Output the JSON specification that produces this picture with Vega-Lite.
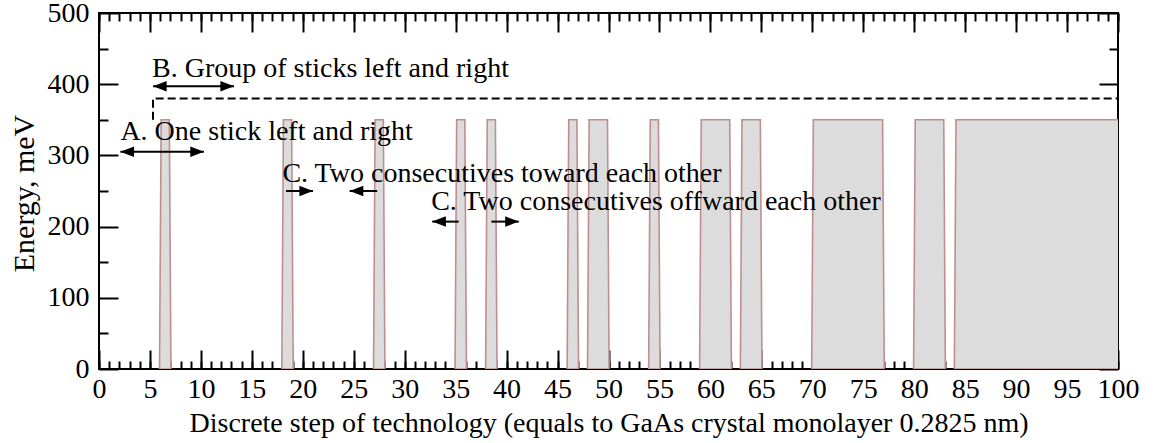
{
  "$schema": "https://vega.github.io/schema/vega-lite/v6.json",
  "width": 1019,
  "height": 356,
  "autosize": "none",
  "padding": {"left": 99, "top": 13, "right": 37, "bottom": 74},
  "background": "white",
  "config": {
    "view": {"stroke": "black", "strokeWidth": 2},
    "axis": {
      "domain": false,
      "grid": false,
      "labelFont": "Liberation Serif",
      "labelFontSize": 28,
      "labelColor": "black",
      "titleFont": "Liberation Serif",
      "titleFontSize": 28,
      "titleFontWeight": "normal",
      "titleColor": "black",
      "tickColor": "black",
      "tickWidth": 2
    }
  },
  "datasets": {
    "sticks": [
      {"stick": "6-7", "x": 5.94, "y": 0}, {"stick": "6-7", "x": 6.1, "y": 350}, {"stick": "6-7", "x": 6.9, "y": 350}, {"stick": "6-7", "x": 7.06, "y": 0},
      {"stick": "18-19", "x": 17.94, "y": 0}, {"stick": "18-19", "x": 18.1, "y": 350}, {"stick": "18-19", "x": 18.9, "y": 350}, {"stick": "18-19", "x": 19.06, "y": 0},
      {"stick": "27-28", "x": 26.94, "y": 0}, {"stick": "27-28", "x": 27.1, "y": 350}, {"stick": "27-28", "x": 27.9, "y": 350}, {"stick": "27-28", "x": 28.06, "y": 0},
      {"stick": "35-36", "x": 34.94, "y": 0}, {"stick": "35-36", "x": 35.1, "y": 350}, {"stick": "35-36", "x": 35.9, "y": 350}, {"stick": "35-36", "x": 36.06, "y": 0},
      {"stick": "38-39", "x": 37.94, "y": 0}, {"stick": "38-39", "x": 38.1, "y": 350}, {"stick": "38-39", "x": 38.9, "y": 350}, {"stick": "38-39", "x": 39.06, "y": 0},
      {"stick": "46-47", "x": 45.94, "y": 0}, {"stick": "46-47", "x": 46.1, "y": 350}, {"stick": "46-47", "x": 46.9, "y": 350}, {"stick": "46-47", "x": 47.06, "y": 0},
      {"stick": "48-50", "x": 47.94, "y": 0}, {"stick": "48-50", "x": 48.1, "y": 350}, {"stick": "48-50", "x": 49.9, "y": 350}, {"stick": "48-50", "x": 50.06, "y": 0},
      {"stick": "54-55", "x": 53.94, "y": 0}, {"stick": "54-55", "x": 54.1, "y": 350}, {"stick": "54-55", "x": 54.9, "y": 350}, {"stick": "54-55", "x": 55.06, "y": 0},
      {"stick": "59-62", "x": 58.94, "y": 0}, {"stick": "59-62", "x": 59.1, "y": 350}, {"stick": "59-62", "x": 61.9, "y": 350}, {"stick": "59-62", "x": 62.06, "y": 0},
      {"stick": "63-65", "x": 62.94, "y": 0}, {"stick": "63-65", "x": 63.1, "y": 350}, {"stick": "63-65", "x": 64.9, "y": 350}, {"stick": "63-65", "x": 65.06, "y": 0},
      {"stick": "70-77", "x": 69.94, "y": 0}, {"stick": "70-77", "x": 70.1, "y": 350}, {"stick": "70-77", "x": 76.9, "y": 350}, {"stick": "70-77", "x": 77.06, "y": 0},
      {"stick": "80-83", "x": 79.94, "y": 0}, {"stick": "80-83", "x": 80.1, "y": 350}, {"stick": "80-83", "x": 82.9, "y": 350}, {"stick": "80-83", "x": 83.06, "y": 0},
      {"stick": "84-100", "x": 83.94, "y": 0}, {"stick": "84-100", "x": 84.1, "y": 350}, {"stick": "84-100", "x": 100.5, "y": 350}, {"stick": "84-100", "x": 100.6, "y": 0}
    ],
    "groupLevel": [
      {"step": 0, "x": 5.3, "y": 350},
      {"step": 1, "x": 5.3, "y": 380},
      {"step": 2, "x": 100, "y": 380}
    ],
    "shafts": [
      {"arrow": "A", "x": 2.1, "x2": 10.3, "y": 305},
      {"arrow": "B", "x": 5.3, "x2": 13.25, "y": 397},
      {"arrow": "C toward, right", "x": 18.35, "x2": 21.0, "y": 250},
      {"arrow": "C toward, left", "x": 24.6, "x2": 27.3, "y": 250},
      {"arrow": "C offward, left", "x": 32.7, "x2": 35.3, "y": 207},
      {"arrow": "C offward, right", "x": 38.5, "x2": 41.2, "y": 207}
    ],
    "heads": [
      {"arrow": "A", "x": 2.1, "y": 305, "angle": 180},
      {"arrow": "A", "x": 10.3, "y": 305, "angle": 0},
      {"arrow": "B", "x": 5.3, "y": 397, "angle": 180},
      {"arrow": "B", "x": 13.25, "y": 397, "angle": 0},
      {"arrow": "C toward, right", "x": 21.0, "y": 250, "angle": 0},
      {"arrow": "C toward, left", "x": 24.6, "y": 250, "angle": 180},
      {"arrow": "C offward, left", "x": 32.7, "y": 207, "angle": 180},
      {"arrow": "C offward, right", "x": 41.2, "y": 207, "angle": 0}
    ],
    "notes": [
      {"x": 2.1, "y": 321, "text": "A. One stick left and right"},
      {"x": 5.2, "y": 410, "text": "B. Group of sticks left and right"},
      {"x": 18.0, "y": 263, "text": "C. Two consecutives toward each other"},
      {"x": 32.6, "y": 223, "text": "C. Two consecutives offward each other"}
    ]
  },
  "layer": [
    {
      "data": {"name": "sticks"},
      "mark": {"type": "area", "interpolate": "linear", "fill": "#dcdcdc", "stroke": "#c08e8e", "strokeWidth": 1.6, "clip": true},
      "encoding": {
        "x": {
          "field": "x", "type": "quantitative",
          "scale": {"domain": [0, 100], "nice": false, "zero": false},
          "axis": {
            "orient": "bottom",
            "values": [0, 5, 10, 15, 20, 25, 30, 35, 40, 45, 50, 55, 60, 65, 70, 75, 80, 85, 90, 95, 100],
            "tickSize": -19,
            "labelPadding": 25,
            "labelFlush": false,
            "labelOverlap": false,
            "title": "Discrete step of technology (equals to GaAs crystal monolayer 0.2825 nm)",
            "titleBaseline": "alphabetic",
            "titleY": 62
          }
        },
        "y": {
          "field": "y", "type": "quantitative", "stack": null,
          "scale": {"domain": [0, 500], "nice": false},
          "axis": {
            "orient": "left",
            "values": [0, 100, 200, 300, 400, 500],
            "tickSize": -19,
            "labelPadding": 29,
            "labelFlush": false,
            "labelOverlap": false,
            "title": "Energy, meV",
            "titleFontSize": 30,
            "titleAngle": -90,
            "titleAlign": "center",
            "titleBaseline": "alphabetic",
            "titleX": -66,
            "titleY": 180
          }
        },
        "detail": {"field": "stick", "type": "nominal"}
      }
    },
    {
      "data": {"name": "groupLevel"},
      "mark": {"type": "line", "color": "black", "strokeWidth": 2, "strokeDash": [8, 4]},
      "encoding": {
        "x": {
          "field": "x", "type": "quantitative",
          "scale": {"domain": [0, 100], "nice": false, "zero": false},
          "axis": {
            "orient": "bottom",
            "values": [0, 1, 2, 3, 4, 5, 6, 7, 8, 9, 10, 11, 12, 13, 14, 15, 16, 17, 18, 19, 20, 21, 22, 23, 24, 25, 26, 27, 28, 29, 30, 31, 32, 33, 34, 35, 36, 37, 38, 39, 40, 41, 42, 43, 44, 45, 46, 47, 48, 49, 50, 51, 52, 53, 54, 55, 56, 57, 58, 59, 60, 61, 62, 63, 64, 65, 66, 67, 68, 69, 70, 71, 72, 73, 74, 75, 76, 77, 78, 79, 80, 81, 82, 83, 84, 85, 86, 87, 88, 89, 90, 91, 92, 93, 94, 95, 96, 97, 98, 99, 100],
            "tickSize": -8,
            "labels": false,
            "title": null
          }
        },
        "y": {
          "field": "y", "type": "quantitative",
          "scale": {"domain": [0, 500], "nice": false},
          "axis": {"orient": "left", "values": [50, 150, 250, 350, 450], "tickSize": -9, "labels": false, "title": null}
        },
        "order": {"field": "step", "type": "quantitative"}
      }
    },
    {
      "data": {"name": "shafts"},
      "mark": {"type": "rule", "color": "black", "strokeWidth": 2},
      "encoding": {
        "x": {
          "field": "x", "type": "quantitative",
          "scale": {"domain": [0, 100], "nice": false, "zero": false},
          "axis": {
            "orient": "top",
            "values": [0, 5, 10, 15, 20, 25, 30, 35, 40, 45, 50, 55, 60, 65, 70, 75, 80, 85, 90, 95, 100],
            "tickSize": -19,
            "labels": false,
            "title": null
          }
        },
        "x2": {"field": "x2"},
        "y": {
          "field": "y", "type": "quantitative",
          "scale": {"domain": [0, 500], "nice": false},
          "axis": {"orient": "right", "values": [0, 100, 200, 300, 400, 500], "tickSize": -19, "labels": false, "title": null}
        }
      }
    },
    {
      "data": {"name": "heads"},
      "mark": {"type": "point", "shape": "M0,0L-2.6,-1L-2.6,1Z", "filled": true, "color": "black", "opacity": 1, "size": 110, "strokeWidth": 0},
      "encoding": {
        "x": {
          "field": "x", "type": "quantitative",
          "scale": {"domain": [0, 100], "nice": false, "zero": false},
          "axis": {
            "orient": "top",
            "values": [0, 1, 2, 3, 4, 5, 6, 7, 8, 9, 10, 11, 12, 13, 14, 15, 16, 17, 18, 19, 20, 21, 22, 23, 24, 25, 26, 27, 28, 29, 30, 31, 32, 33, 34, 35, 36, 37, 38, 39, 40, 41, 42, 43, 44, 45, 46, 47, 48, 49, 50, 51, 52, 53, 54, 55, 56, 57, 58, 59, 60, 61, 62, 63, 64, 65, 66, 67, 68, 69, 70, 71, 72, 73, 74, 75, 76, 77, 78, 79, 80, 81, 82, 83, 84, 85, 86, 87, 88, 89, 90, 91, 92, 93, 94, 95, 96, 97, 98, 99, 100],
            "tickSize": -8,
            "labels": false,
            "title": null
          }
        },
        "y": {
          "field": "y", "type": "quantitative",
          "scale": {"domain": [0, 500], "nice": false},
          "axis": {"orient": "right", "values": [50, 150, 250, 350, 450], "tickSize": -9, "labels": false, "title": null}
        },
        "angle": {"field": "angle", "type": "quantitative", "scale": null}
      }
    },
    {
      "data": {"name": "notes"},
      "mark": {"type": "text", "font": "Liberation Serif", "fontSize": 28, "color": "black", "align": "left", "baseline": "alphabetic"},
      "encoding": {
        "x": {"field": "x", "type": "quantitative", "scale": {"domain": [0, 100], "nice": false, "zero": false}, "axis": null},
        "y": {"field": "y", "type": "quantitative", "scale": {"domain": [0, 500], "nice": false}, "axis": null},
        "text": {"field": "text"}
      }
    }
  ],
  "resolve": {"axis": {"x": "independent", "y": "independent"}}
}
